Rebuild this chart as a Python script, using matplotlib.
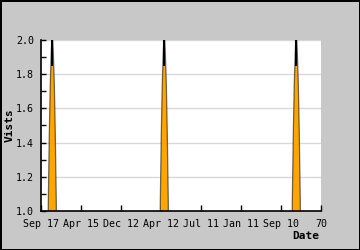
import numpy as np
import matplotlib.pyplot as plt

# x positions (axis units, 0..280) and visit counts
days = [0,
        6.3, 7.3, 8.3, 9.3, 10.3, 11.3, 12.3, 13.3, 14.3, 15.3, 16.3,
        118.3, 119.3, 120.3, 121.3, 122.3, 123.3, 124.3, 125.3, 126.3, 127.3, 128.3,
        250.3, 251.3, 252.3, 253.3, 254.3, 255.3, 256.3, 257.3, 258.3, 259.3, 260.3,
        280]
visits = [0,
          0, 1.05, 1.45, 1.75, 1.93, 2.05, 1.93, 1.75, 1.45, 1.05, 0,
          0, 1.05, 1.45, 1.75, 1.93, 2.05, 1.93, 1.75, 1.45, 1.05, 0,
          0, 1.05, 1.45, 1.75, 1.93, 2.05, 1.93, 1.75, 1.45, 1.05, 0,
          0]
tick_pos = [0, 40, 80, 120, 160, 200, 240, 280]
tick_labels = ["Sep 17", "Apr 15", "Dec 12", "Apr 12", "Jul 11", "Jan 11", "Sep 10", "70"]
y_ticks = [1.0, 1.2, 1.4, 1.6, 1.8, 2.0]

plt.rcParams['font.family'] = 'DejaVu Sans Mono'

fig = plt.figure(figsize=(3.6, 2.5), dpi=100, facecolor='#c8c8c8',
                 edgecolor='black', linewidth=1)
ax = fig.add_axes([41/360, 39/250, 280/360, 171/250])
ax.set_facecolor('white')

ax.fill_between(days, visits, 0, color='orange', linewidth=0)
ax.plot(days, visits, color='black', linewidth=0.9, alpha=0.55)
ax.vlines([11.3, 123.3, 255.3], 1.85, 2.0, color='black', linewidth=1.5)

ax.set_xlim(0, 280)
ax.set_ylim(1.0, 2.0)
ax.set_xticks(tick_pos)
ax.set_xticklabels(tick_labels, fontsize=7.2)
ax.set_yticks(y_ticks)
ax.set_yticklabels([f"{v:.1f}" for v in y_ticks], fontsize=7.2)
ax.set_yticks(np.arange(1.1, 2.0, 0.2), minor=True)
ax.tick_params(axis='x', direction='in', length=4, width=1, color='black', pad=6)
ax.tick_params(axis='y', which='both', direction='in', length=3.5, width=1,
               color='black', pad=5)
ax.grid(axis='y', color='#d9d9d9', linewidth=1)
ax.set_axisbelow(True)

for s in ['top', 'right']:
    ax.spines[s].set_visible(False)
ax.spines['left'].set_linewidth(1.2)
ax.spines['bottom'].set_linewidth(1.2)

ax.set_ylabel("Vists", fontsize=8, fontweight='bold', labelpad=1)
fig.text(319/360, 1 - 236/250, "Date", fontsize=8, fontweight='bold',
         ha='right', va='center')

fig.savefig("out.png", dpi=100, facecolor=fig.get_facecolor(),
            edgecolor=fig.get_edgecolor())
